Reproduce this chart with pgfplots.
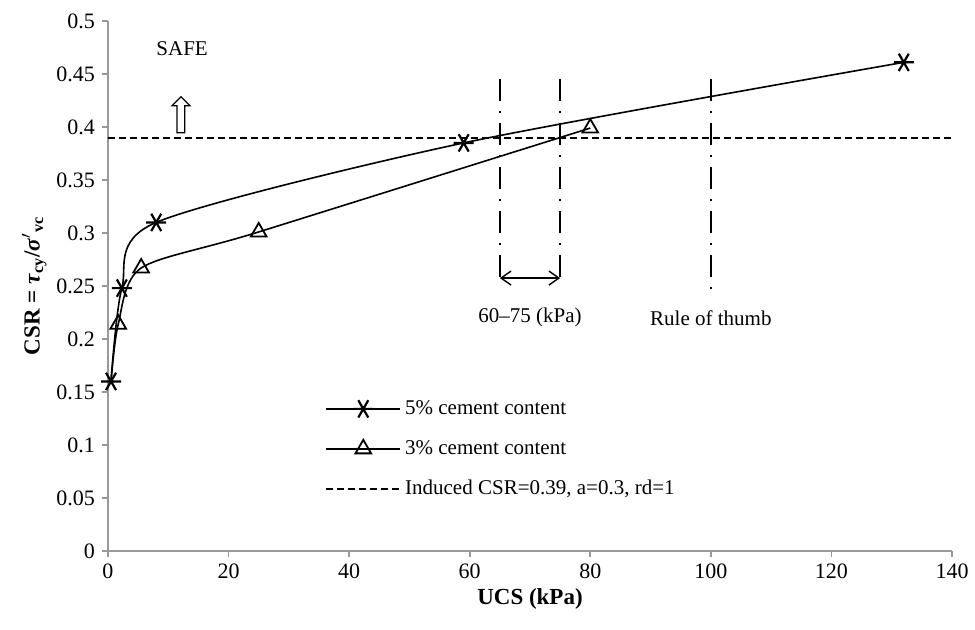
\documentclass[border=0pt]{standalone}
\usepackage{fontspec}
\setmainfont{Liberation Serif}
\usepackage{pgfplots}
\pgfplotsset{compat=1.18}
\usetikzlibrary{arrows.meta,shapes.arrows}

\begin{document}
\begin{tikzpicture}
\useasboundingbox (-54pt,-39pt) rectangle (433.5pt,275.5pt);
\begin{axis}[
    scale only axis, width=422pt, height=265pt,
    at={(0,0)}, anchor=south west,
    xmin=0, xmax=140, ymin=0, ymax=0.5,
    xtick={0,20,...,140}, ytick={0,0.05,...,0.5},
    axis lines=left, axis line style={-, gray!80, line width=1.2pt},
    tick style={gray!80, line width=0.8pt}, tick align=outside, major tick length=3pt,
    /pgf/number format/assume math mode=true,
    yticklabel style={/pgf/number format/fixed, /pgf/number format/precision=2},
    tick label style={font=\fontsize{11}{13}\selectfont},
    xlabel={\textbf{UCS (kPa)}}, xlabel style={font=\fontsize{11.5}{13}\selectfont, yshift=2pt},
    ylabel={\textbf{CSR = \textit{τ}\textsubscript{cy}/\textit{σ}$'$\textsubscript{vc}}},
    ylabel style={font=\fontsize{11.5}{13}\selectfont, yshift=-2pt},
    legend style={draw=none, at={(0.25,0.3)}, anchor=north west,
        font=\fontsize{10.5}{12}\selectfont, row sep=7.5pt, fill=none},
    legend cell align=left,
    legend image code/.code={\draw[mark repeat=2,mark phase=2,#1,mark indices={2}] plot coordinates {(0cm,0cm) (0.65cm,0cm) (1.3cm,0cm)};},
    clip=false,
]
\addplot[black, line width=0.8pt, smooth, tension=0.45, mark=asterisk, mark size=5pt,
    mark options={line width=1.1pt, rotate=90}] coordinates {
  (0.5,0.16) (2.3,0.248) (8,0.31) (59,0.385) (132,0.461)
};
\addlegendentry{5\% cement content}
\addplot[black, line width=0.8pt, smooth, tension=0.45, mark=triangle, mark size=4.5pt,
    mark options={fill=white, line width=0.9pt}, mark indices={2,3,4,5}] coordinates {
  (0.5,0.16) (1.7,0.214) (5.5,0.267) (25,0.301) (80,0.399)
};
\addlegendentry{3\% cement content}
\addplot[black, line width=0.9pt, dash pattern=on 3.5pt off 2pt] coordinates {
  (0,0.39) (140,0.39)
};
\addlegendentry{Induced CSR=0.39, a=0.3, rd=1}

\draw[black, line width=1pt, dash pattern=on 11pt off 5pt on 1pt off 5pt]
  (axis cs:65,0.445) -- (axis cs:65,0.25);
\draw[black, line width=1pt, dash pattern=on 11pt off 5pt on 1pt off 5pt]
  (axis cs:75,0.445) -- (axis cs:75,0.25);
\draw[black, line width=1pt, dash pattern=on 11pt off 5pt on 1pt off 5pt]
  (axis cs:100,0.445) -- (axis cs:100,0.24);
\draw[black, line width=0.7pt, {Straight Barb[length=5pt,width=7pt]}-{Straight Barb[length=5pt,width=7pt]}]
  (axis cs:65,0.2575) -- (axis cs:75,0.2575);
\node[font=\fontsize{10.5}{12}\selectfont] at (axis cs:70,0.22) {60–75 (kPa)};
\node[font=\fontsize{10.5}{12}\selectfont] at (axis cs:100,0.22) {Rule of thumb};
\node[font=\fontsize{10.5}{12}\selectfont] at (axis cs:12.3,0.474) {SAFE};
\node[single arrow, draw=black, line width=0.6pt, fill=white, shape border rotate=90,
    minimum height=18pt, minimum width=9pt, single arrow head extend=2pt,
    inner sep=1.2pt, anchor=tail] at (axis cs:12.1,0.394) {};
\end{axis}
\end{tikzpicture}
\end{document}
